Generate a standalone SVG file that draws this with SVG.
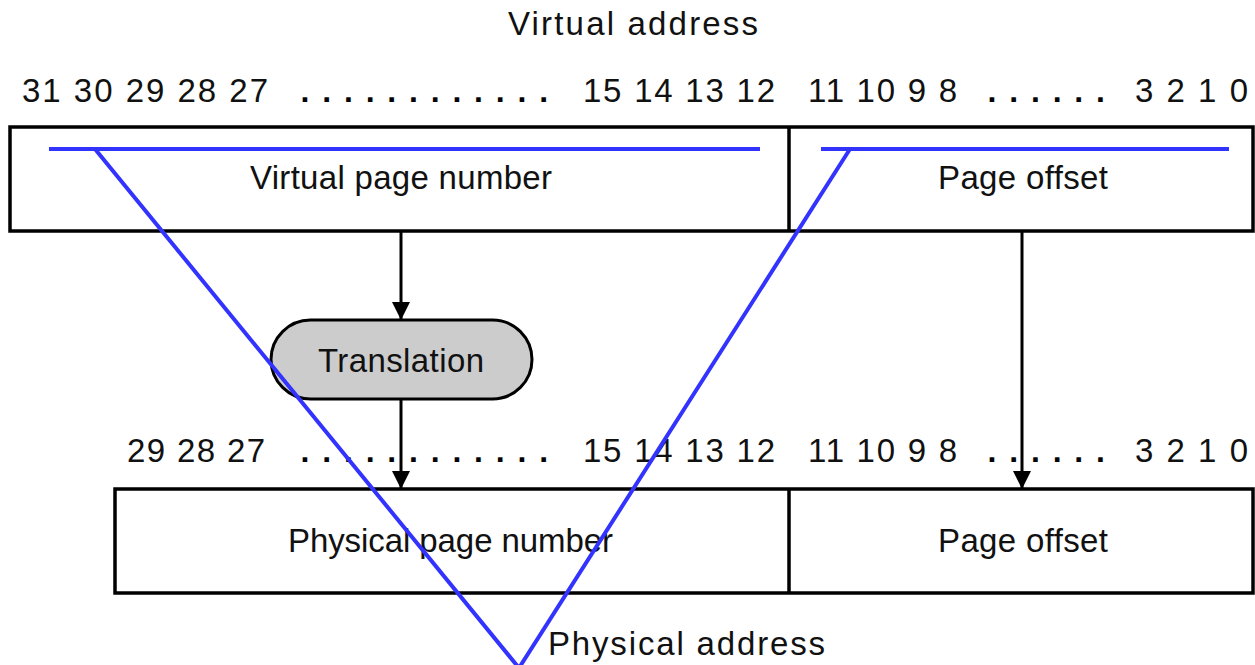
<svg xmlns="http://www.w3.org/2000/svg" width="1255" height="665" viewBox="0 0 1255 665">
  <style>
    .t { font-family: "Liberation Sans", Arial, sans-serif; font-size: 33px; fill: #111; }
    .dots { font-family: "Liberation Sans", Arial, sans-serif; font-size: 32px; font-weight: bold; fill: #000; letter-spacing: 12.8px; }
    .box { fill: #fff; stroke: #000; stroke-width: 3.5; }
    .div { stroke: #000; stroke-width: 3.5; }
    .conn { stroke: #000; stroke-width: 3; fill: none; }
    .blue { stroke: #3333ff; stroke-width: 4; fill: none; stroke-linecap: butt; }
  </style>
  <defs>
    <marker id="arrow" markerUnits="userSpaceOnUse" markerWidth="18" markerHeight="18" refX="18" refY="9" orient="auto">
      <path d="M0,0 L18,9 L0,18 Z" fill="#000"/>
    </marker>
  </defs>
  <rect width="1255" height="665" fill="#fff"/>

  <g id="title-virtual">
    <text class="t" x="508" y="35" textLength="250" lengthAdjust="spacing">Virtual address</text>
  </g>

  <g id="virtual-bits">
    <text class="t" x="22" y="102" textLength="246" lengthAdjust="spacing">31 30 29 28 27</text>
    <text class="dots" x="300.6" y="102">............</text>
    <text class="t" x="583" y="102" textLength="192" lengthAdjust="spacing">15 14 13 12</text>
    <text class="t" x="808" y="102" textLength="149" lengthAdjust="spacing">11 10 9 8</text>
    <text class="dots" x="987.6" y="102">......</text>
    <text class="t" x="1135" y="102" textLength="113" lengthAdjust="spacing">3 2 1 0</text>
  </g>

  <g id="virtual-address-box">
    <rect class="box" x="10" y="127" width="1243" height="104"/>
    <line class="div" x1="789" y1="127" x2="789" y2="231"/>
  </g>
  <g id="virtual-page-number">
    <text class="t" x="250" y="189" textLength="302" lengthAdjust="spacing">Virtual page number</text>
  </g>
  <g id="virtual-page-offset">
    <text class="t" x="938" y="189" textLength="170" lengthAdjust="spacing">Page offset</text>
  </g>

  <g id="translation">
    <rect x="271" y="320" width="261" height="79" rx="39.5" ry="39.5" fill="#cccccc" stroke="#000" stroke-width="3"/>
    <text class="t" x="318" y="372" textLength="166" lengthAdjust="spacing">Translation</text>
  </g>

  <g id="physical-bits">
    <text class="t" x="127" y="462" textLength="138" lengthAdjust="spacing">29 28 27</text>
    <text class="dots" x="300.6" y="462">............</text>
    <text class="t" x="583" y="462" textLength="192" lengthAdjust="spacing">15 14 13 12</text>
    <text class="t" x="808" y="462" textLength="149" lengthAdjust="spacing">11 10 9 8</text>
    <text class="dots" x="987.6" y="462">......</text>
    <text class="t" x="1135" y="462" textLength="113" lengthAdjust="spacing">3 2 1 0</text>
  </g>

  <g id="physical-address-box">
    <rect class="box" x="115" y="489" width="1138" height="104"/>
    <line class="div" x1="789" y1="489" x2="789" y2="593"/>
  </g>
  <g id="physical-page-number">
    <text class="t" x="288" y="552" textLength="325" lengthAdjust="spacing">Physical page number</text>
  </g>
  <g id="physical-page-offset">
    <text class="t" x="938" y="552" textLength="170" lengthAdjust="spacing">Page offset</text>
  </g>

  <g id="title-physical">
    <text class="t" x="548" y="655" textLength="277" lengthAdjust="spacing">Physical address</text>
  </g>

  <g id="connectors">
    <line class="conn" x1="401" y1="231" x2="401" y2="320" marker-end="url(#arrow)"/>
    <line class="conn" x1="401" y1="399" x2="401" y2="489" marker-end="url(#arrow)"/>
    <line class="conn" x1="1022" y1="231" x2="1022" y2="489" marker-end="url(#arrow)"/>
  </g>

  <g id="annotation">
    <line class="blue" x1="49" y1="149" x2="760" y2="149"/>
    <line class="blue" x1="821" y1="149" x2="1229" y2="149"/>
    <polyline class="blue" points="95,149 519,668 850,149"/>
  </g>
</svg>
